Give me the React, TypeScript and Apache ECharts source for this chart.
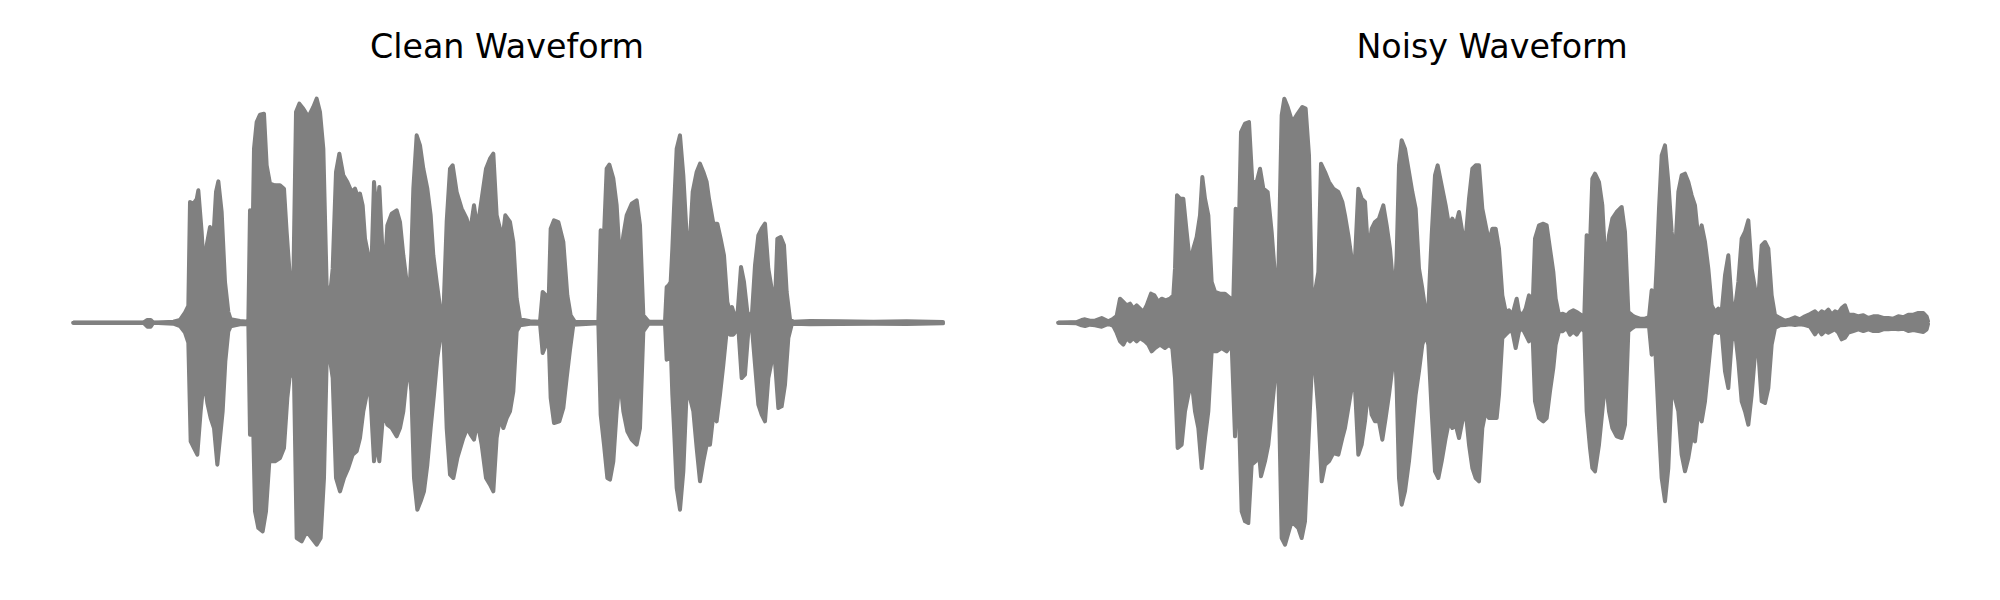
import React, { useEffect, useRef } from 'react';
import * as echarts from 'echarts';

// Panel titles
const panelTitles = ['Clean Waveform', 'Noisy Waveform'];

// Envelope of each waveform: [time (ms), amplitude] pairs.
const cleanUpper: number[][] = [
  [1,0],[211,0],[223,8],[233,8],[241,0],[301,3],[321,8],[336,30],[346,50],[351,362],[361,357],[371,370],[376,397],[386,272],[393,152],[401,232],[411,287],[421,252],[429,392],[436,424],[446,332],[456,122],[466,32],[473,10],[501,5],[526,3],[531,337],[537,150],[543,522],[551,602],[561,624],[573,627],[581,472],[591,417],[606,412],[621,412],[633,402],[641,272],[651,132],[661,122],[669,632],[679,657],[691,642],[706,617],[721,647],[731,672],[741,632],[751,522],[761,112],[771,82],[779,162],[789,452],[799,507],[811,442],[823,422],[836,392],[846,402],[856,372],
  [861,387],[869,352],[876,252],[886,202],[896,192],[903,422],[911,322],[919,407],[928,222],[936,172],[943,292],[956,327],[971,337],[981,302],[991,202],[1001,122],[1009,82],[1015,207],[1021,402],[1031,562],[1041,532],[1051,462],[1063,402],[1073,322],[1081,202],[1091,122],[1103,32],[1111,22],[1121,302],[1131,462],[1139,472],[1151,392],[1166,342],[1181,312],[1191,272],[1203,352],[1213,282],[1226,372],[1239,462],[1251,492],[1261,507],[1271,322],[1281,282],[1291,272],[1297,322],[1311,302],[1321,242],[1331,72],[1341,10],[1371,4],[1401,3],[1409,92],[1419,82],[1426,32],[1433,282],[1443,307],[1456,302],[1471,242],[1483,82],[1493,22],[1506,2],[1576,2],[1583,277],[1591,212],[1601,462],[1609,474],[1621,432],[1631,352],[1641,182],[1651,262],[1661,322],[1676,357],[1691,367],[1701,292],[1711,22],[1726,4],
  [1731,3],[1776,3],[1781,107],[1787,112],[1793,122],[1798,222],[1803,342],[1811,522],[1821,562],[1831,442],[1841,262],[1849,212],[1859,392],[1871,452],[1881,477],[1891,452],[1901,422],[1908,372],[1921,297],[1933,297],[1943,252],[1953,202],[1963,62],[1971,32],[1977,47],[1986,17],[1994,32],[2004,167],[2013,122],[2023,32],[2036,12],[2046,172],[2056,262],[2066,282],[2076,297],[2086,162],[2096,102],[2106,62],[2113,252],[2123,257],[2133,232],[2141,92],[2151,10],[2161,3],[2211,5],[2301,4],[2401,3],[2501,4],[2610,2]
];

const cleanLower: number[][] = [
  [1,0],[211,0],[223,-12],[233,-12],[241,0],[301,-3],[321,-10],[336,-30],[346,-60],[353,-356],[363,-376],[373,-396],[383,-266],[393,-166],[403,-241],[413,-286],[423,-316],[433,-426],[441,-346],[449,-266],[457,-116],[466,-26],[473,-11],[501,-5],[526,-4],[531,-336],[537,-150],[546,-566],[556,-616],[569,-626],[579,-566],[589,-416],[606,-416],[621,-406],[633,-376],[643,-226],[653,-136],[663,-166],[671,-646],[686,-656],[701,-626],[716,-646],[731,-666],[743,-646],[753,-466],[761,-116],[769,-96],[779,-166],[789,-466],[801,-506],[813,-466],[826,-436],[839,-396],[851,-386],
  [861,-346],[871,-266],[881,-216],[891,-196],[903,-416],[911,-356],[919,-416],[931,-266],[943,-306],[956,-316],[971,-341],[981,-316],[991,-266],[1001,-166],[1009,-146],[1015,-206],[1023,-466],[1033,-561],[1043,-536],[1053,-506],[1063,-426],[1073,-316],[1083,-216],[1093,-106],[1103,-36],[1111,-26],[1121,-316],[1131,-456],[1141,-466],[1153,-406],[1171,-346],[1183,-316],[1193,-336],[1203,-351],[1213,-296],[1226,-366],[1239,-466],[1251,-486],[1261,-506],[1271,-346],[1281,-286],[1291,-316],[1301,-286],[1311,-266],[1321,-206],[1331,-26],[1341,-8],[1371,-3],[1401,-3],[1409,-91],[1419,-66],[1426,-16],[1433,-226],[1443,-301],[1459,-296],[1471,-256],[1481,-166],[1491,-81],[1501,-6],[1576,-2],[1583,-276],[1593,-366],[1603,-466],[1611,-471],[1621,-416],[1631,-266],[1641,-166],[1651,-266],[1663,-326],[1676,-351],[1691,-366],[1701,-316],[1711,-26],[1726,-4],
  [1731,-3],[1776,-3],[1781,-111],[1788,-106],[1793,-66],[1798,-216],[1803,-316],[1811,-496],[1821,-561],[1831,-446],[1841,-206],[1851,-226],[1861,-266],[1871,-376],[1881,-476],[1891,-416],[1901,-366],[1911,-366],[1921,-276],[1931,-296],[1941,-216],[1951,-126],[1961,-26],[1971,-36],[1981,-36],[1996,-16],[2006,-166],[2016,-156],[2026,-26],[2036,-6],[2046,-126],[2056,-246],[2066,-276],[2076,-296],[2086,-166],[2096,-116],[2106,-116],[2116,-256],[2126,-251],[2136,-186],[2146,-46],[2156,-6],[2161,-3],[2211,-5],[2301,-4],[2401,-3],[2501,-4],[2610,-2]
];

const noisyUpper: number[][] = [
  [1,0],[56,2],[71,8],[81,10],[96,6],[111,6],[131,14],[151,4],[166,12],[176,20],[186,72],[196,62],[206,52],[216,57],[226,42],[236,52],[246,42],[256,32],[266,52],[279,87],[289,82],[301,62],[311,72],[323,67],[336,72],[346,82],[351,162],[357,382],[366,372],[376,372],[386,272],[396,177],[406,222],[416,257],[426,322],[433,437],[441,372],[451,322],[461,122],[471,92],[486,87],[501,87],[516,74],[526,72],[533,342],[539,122],[549,572],[561,597],[573,602],[583,422],[596,422],[606,462],[616,402],[629,392],[641,272],[651,142],[661,142],[671,622],[679,672],[689,647],[703,602],[719,627],[733,647],[743,642],[753,502],[761,102],[771,92],[781,152],[789,477],[801,452],[813,422],[826,402],[841,392],[853,362],
  [861,322],[871,262],[881,192],[891,192],[901,402],[911,372],[921,362],[931,202],[941,282],[951,302],[963,312],[976,352],[986,292],[996,222],[1003,142],[1011,92],[1016,202],[1023,472],[1031,547],[1041,522],[1053,452],[1063,392],[1073,342],[1083,162],[1093,102],[1103,32],[1111,42],[1121,262],[1131,442],[1139,472],[1151,412],[1163,352],[1173,292],[1183,312],[1193,292],[1203,332],[1213,272],[1223,252],[1233,372],[1243,462],[1253,472],[1263,472],[1273,342],[1283,292],[1293,242],[1303,282],[1313,282],[1323,222],[1333,82],[1343,32],[1353,37],[1363,22],[1376,72],[1383,32],[1393,22],[1403,42],[1413,82],[1423,22],[1431,252],[1443,292],[1456,297],[1466,292],[1476,222],[1486,152],[1493,72],[1503,22],[1513,27],[1526,22],[1536,32],[1546,37],[1556,32],[1571,22],[1579,22],[1586,262],[1596,232],[1603,432],[1611,447],[1623,422],[1633,352],[1643,162],[1653,262],[1663,312],[1676,332],[1691,347],[1701,272],[1711,32],[1723,22],
  [1731,17],[1746,12],[1761,12],[1773,17],[1781,97],[1789,32],[1796,172],[1803,342],[1811,502],[1821,532],[1831,422],[1841,272],[1851,202],[1861,392],[1871,442],[1881,447],[1891,422],[1901,382],[1911,352],[1921,252],[1931,292],[1941,242],[1951,162],[1961,52],[1971,32],[1981,42],[1991,32],[2001,142],[2011,202],[2021,62],[2031,42],[2041,122],[2051,252],[2061,272],[2071,307],[2081,162],[2091,102],[2101,72],[2111,232],[2121,242],[2131,222],[2141,82],[2151,22],[2166,14],[2181,6],[2196,10],[2211,16],[2226,10],[2241,19],[2256,26],[2271,34],[2281,24],[2291,34],[2301,29],[2311,39],[2321,24],[2331,34],[2341,29],[2351,44],[2361,52],[2371,24],[2386,24],[2401,19],[2416,22],[2431,14],[2446,19],[2461,19],[2476,14],[2491,14],[2506,12],[2521,19],[2536,16],[2551,24],[2566,24],[2581,29],[2596,29],[2606,18],[2610,5]
];

const noisyLower: number[][] = [
  [1,0],[56,-2],[71,-8],[81,-10],[96,-6],[111,-8],[131,-12],[151,-4],[166,-10],[176,-30],[186,-56],[196,-66],[206,-46],[216,-56],[226,-46],[236,-56],[246,-46],[261,-56],[271,-66],[281,-86],[291,-76],[306,-66],[321,-76],[333,-66],[343,-76],[351,-166],[359,-376],[371,-366],[381,-266],[391,-216],[401,-176],[411,-266],[421,-316],[431,-436],[441,-346],[451,-266],[461,-86],[476,-86],[491,-76],[506,-86],[521,-66],[531,-341],[539,-136],[551,-566],[561,-596],[571,-601],[581,-426],[593,-416],[601,-366],[609,-461],[621,-416],[631,-366],[641,-266],[651,-166],[661,-146],[671,-646],[681,-666],[701,-596],[721,-616],[731,-646],[741,-596],[751,-366],[761,-146],[771,-136],[781,-266],[791,-476],[801,-426],[813,-416],[826,-391],[841,-396],[853,-346],
  [861,-316],[871,-256],[881,-196],[891,-196],[901,-396],[911,-366],[921,-296],[931,-196],[941,-276],[951,-296],[963,-296],[973,-351],[983,-286],[993,-216],[1003,-136],[1011,-66],[1016,-196],[1023,-466],[1031,-546],[1041,-506],[1053,-416],[1063,-316],[1073,-216],[1083,-146],[1093,-66],[1103,-36],[1111,-66],[1121,-266],[1131,-446],[1141,-466],[1151,-416],[1163,-346],[1173,-296],[1183,-316],[1193,-306],[1203,-346],[1213,-296],[1223,-266],[1233,-366],[1243,-436],[1253,-466],[1263,-476],[1273,-316],[1283,-266],[1293,-286],[1306,-286],[1316,-286],[1323,-216],[1333,-46],[1343,-36],[1353,-26],[1363,-26],[1373,-76],[1383,-26],[1393,-16],[1403,-36],[1413,-56],[1423,-16],[1431,-236],[1443,-286],[1456,-296],[1466,-286],[1476,-206],[1486,-136],[1493,-66],[1503,-26],[1513,-26],[1526,-16],[1536,-36],[1546,-26],[1556,-36],[1569,-16],[1579,-26],[1586,-266],[1596,-376],[1603,-436],[1611,-446],[1623,-366],[1633,-266],[1643,-166],[1653,-266],[1663,-316],[1676,-341],[1691,-346],[1701,-306],[1711,-26],[1723,-16],
  [1731,-11],[1746,-11],[1761,-11],[1773,-11],[1781,-96],[1789,-26],[1796,-166],[1803,-316],[1811,-466],[1821,-536],[1831,-436],[1841,-196],[1851,-226],[1861,-266],[1871,-396],[1881,-446],[1891,-406],[1901,-346],[1911,-356],[1921,-266],[1931,-296],[1941,-236],[1951,-136],[1961,-36],[1971,-26],[1981,-31],[1991,-26],[2001,-146],[2011,-196],[2021,-56],[2031,-26],[2041,-116],[2051,-236],[2061,-266],[2071,-306],[2081,-216],[2091,-96],[2101,-86],[2111,-236],[2121,-241],[2131,-196],[2141,-66],[2151,-16],[2166,-8],[2181,-7],[2196,-5],[2211,-7],[2226,-5],[2241,-7],[2256,-12],[2271,-35],[2281,-20],[2291,-35],[2301,-25],[2311,-30],[2321,-25],[2331,-20],[2341,-30],[2351,-50],[2361,-45],[2371,-30],[2386,-25],[2401,-20],[2416,-25],[2431,-20],[2446,-25],[2461,-25],[2476,-20],[2491,-20],[2506,-18],[2521,-20],[2536,-18],[2551,-25],[2566,-22],[2581,-25],[2596,-28],[2606,-20],[2610,-4]
];

const timeRange = [0, 2610];
const ampRange = [-700, 700];

export default function App() {
  const ref = useRef<HTMLDivElement>(null);

  useEffect(() => {
    if (!ref.current) return;
    const chart = echarts.init(ref.current, null, { renderer: 'svg' });
    const WAVE = '#808080';
    const gridLefts = [73, 1058];
    const titleCenters = [507, 1492];
    const panels = [
      [cleanUpper, cleanLower],
      [noisyUpper, noisyLower],
    ];

    const series: any[] = [];
    panels.forEach((pair, i) => {
      pair.forEach((data, k) => {
        series.push({
          type: 'line',
          xAxisIndex: i,
          yAxisIndex: i,
          data,
          symbol: 'none',
          showSymbol: false,
          silent: true,
          smooth: false,
          lineStyle: { color: WAVE, width: 4, join: 'round', cap: 'round' },
          // the two halves overlap slightly so no seam shows at zero
          areaStyle: { color: WAVE, opacity: 1, origin: k === 0 ? -6 : 6 },
        });
      });
    });

    chart.setOption({
      animation: false,
      backgroundColor: '#ffffff',
      grid: gridLefts.map((left) => ({
        left,
        top: 89.33,
        width: 870,
        height: 466.67,
        containLabel: false,
      })),
      xAxis: gridLefts.map((_, i) => ({
        type: 'value',
        gridIndex: i,
        min: timeRange[0],
        max: timeRange[1],
        show: false,
      })),
      yAxis: gridLefts.map((_, i) => ({
        type: 'value',
        gridIndex: i,
        min: ampRange[0],
        max: ampRange[1],
        show: false,
      })),
      graphic: panelTitles.map((text, i) => ({
        type: 'text',
        x: titleCenters[i],
        y: 46.5,
        silent: true,
        style: {
          text,
          fill: '#000000',
          fontSize: 33.3,
          fontFamily: 'DejaVu Sans',
          align: 'center',
          verticalAlign: 'middle',
          textAlign: 'center',
          textVerticalAlign: 'middle',
        },
      })),
      series,
    });

    return () => chart.dispose();
  }, []);

  return (
    <div
      ref={ref}
      style={{ position: 'fixed', left: 0, top: 0, width: 2000, height: 600, background: '#fff' }}
    />
  );
}
